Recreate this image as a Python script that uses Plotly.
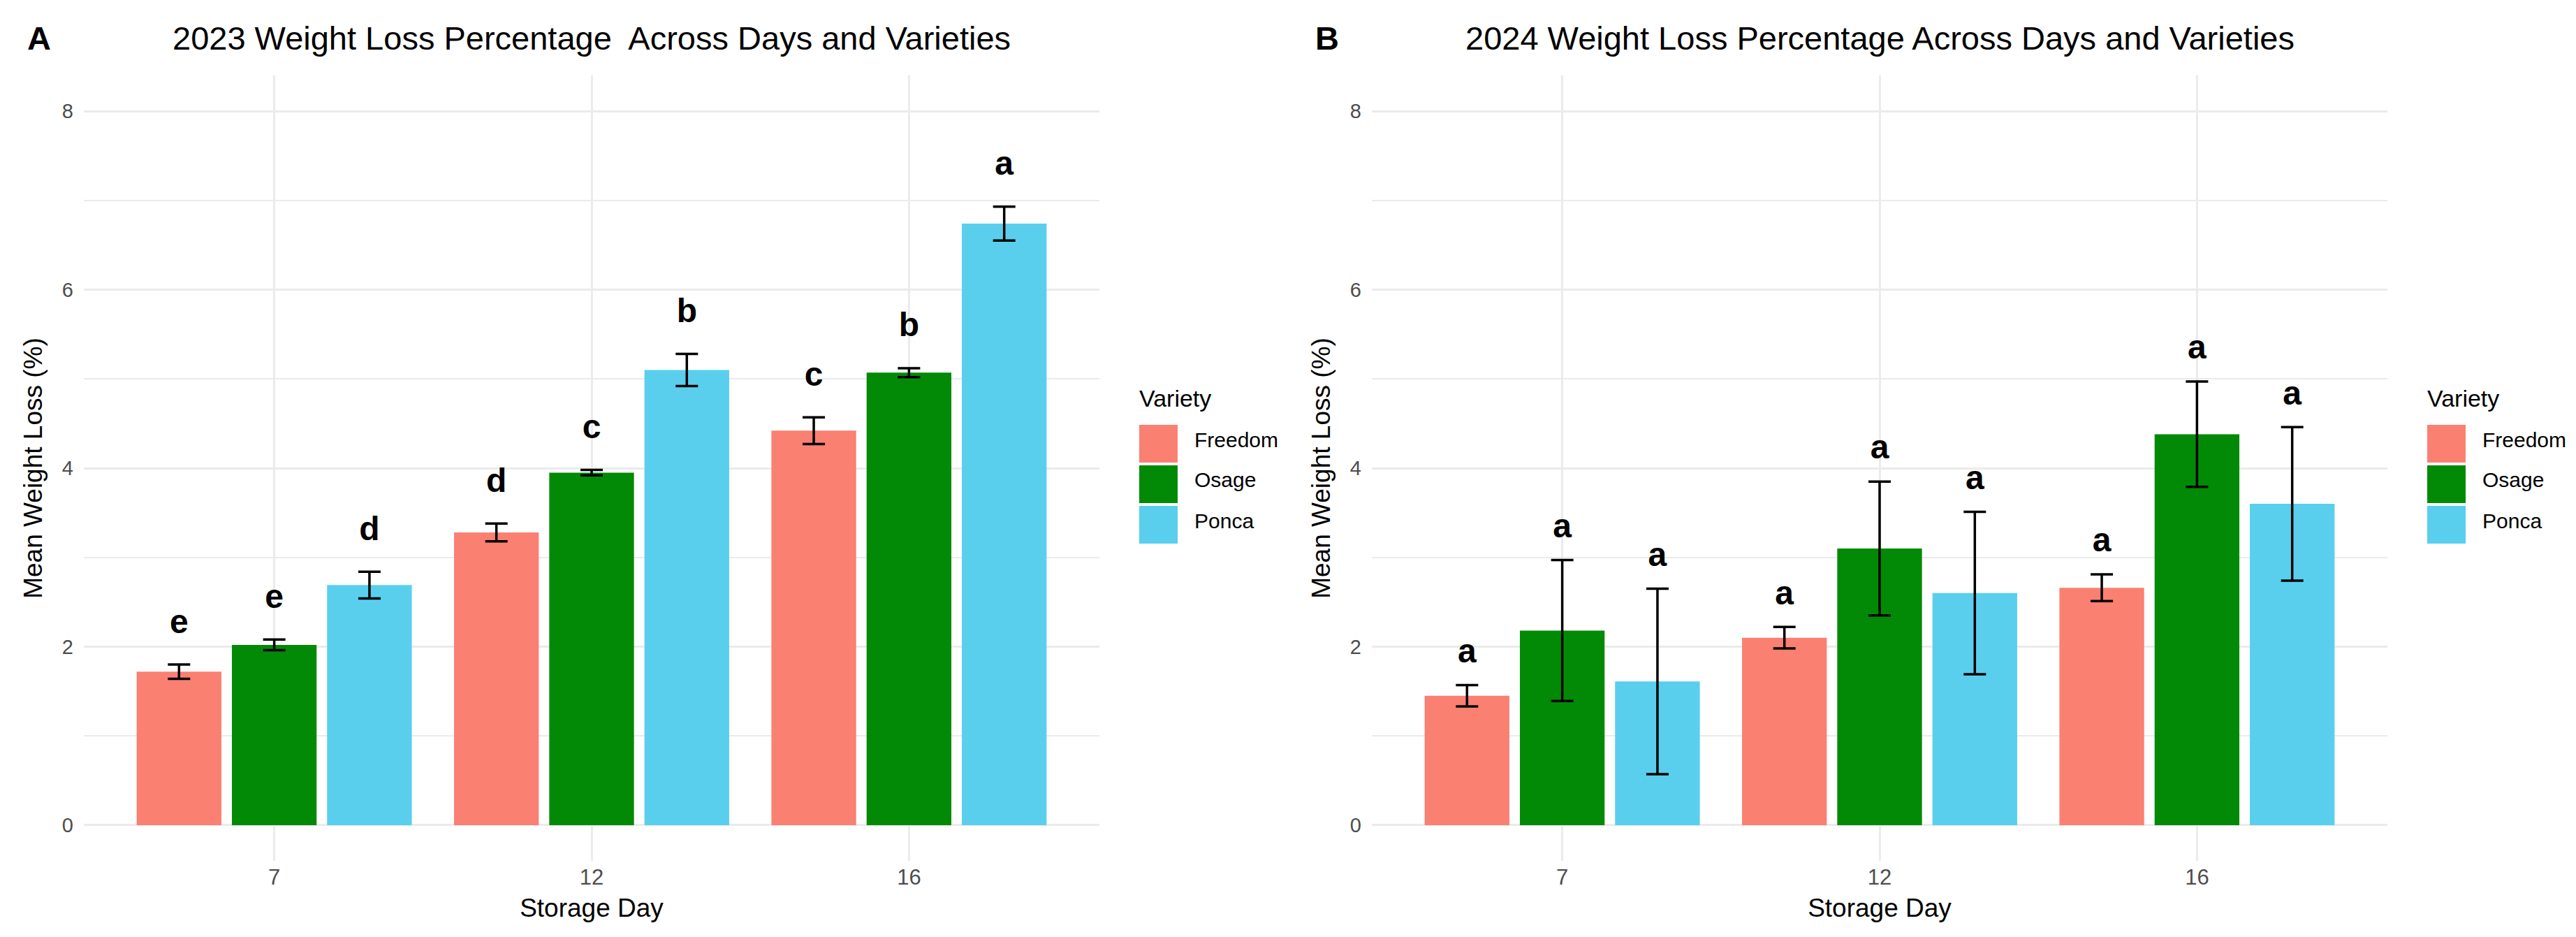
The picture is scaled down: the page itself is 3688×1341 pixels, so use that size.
import plotly.graph_objects as go
from plotly.subplots import make_subplots

# %% DATA
days = ["7", "12", "16"]
varieties = ["Freedom", "Osage", "Ponca"]
colors = ["#FA8072", "#028A06", "#59CFED"]

freedom_2023 = [1.72, 3.28, 4.42]
osage_2023 = [2.02, 3.95, 5.07]
ponca_2023 = [2.69, 5.10, 6.74]
freedom_2023_se = [0.08, 0.10, 0.15]
osage_2023_se = [0.06, 0.03, 0.05]
ponca_2023_se = [0.15, 0.18, 0.19]
freedom_2023_let = ["e", "d", "c"]
osage_2023_let = ["e", "c", "b"]
ponca_2023_let = ["d", "b", "a"]

freedom_2024 = [1.45, 2.10, 2.66]
osage_2024 = [2.18, 3.10, 4.38]
ponca_2024 = [1.61, 2.60, 3.60]
freedom_2024_se = [0.12, 0.12, 0.15]
osage_2024_se = [0.79, 0.75, 0.59]
ponca_2024_se = [1.04, 0.91, 0.86]
freedom_2024_let = ["a", "a", "a"]
osage_2024_let = ["a", "a", "a"]
ponca_2024_let = ["a", "a", "a"]

titles = ["2023 Weight Loss Percentage  Across Days and Varieties",
          "2024 Weight Loss Percentage Across Days and Varieties"]
tags = ["A", "B"]

# %% SETTINGS
W, H = 3688, 1341
FONT = "Liberation Sans, Arial, sans-serif"
GRID = "#EBEBEB"
panel_shift = 1844          # px between the two panels
x0_px, x1_px = 112, 1566    # panel A plot area (px)
top_px, bot_px = 100, 1224
letter_offset = [0.45, 0.35]

def px(x):
    return x / W

def py(y):
    return 1 - y / H

panels = [
    ([freedom_2023, osage_2023, ponca_2023],
     [freedom_2023_se, osage_2023_se, ponca_2023_se],
     [freedom_2023_let, osage_2023_let, ponca_2023_let]),
    ([freedom_2024, osage_2024, ponca_2024],
     [freedom_2024_se, osage_2024_se, ponca_2024_se],
     [freedom_2024_let, osage_2024_let, ponca_2024_let]),
]

fig = make_subplots(rows=1, cols=2)

for p, (vals, ses, lets) in enumerate(panels):
    for i, var in enumerate(varieties):
        fig.add_trace(go.Bar(x=days, y=vals[i], name=var, offsetgroup=var,
                             marker=dict(color=colors[i], line=dict(width=0)),
                             error_y=dict(type="data", array=ses[i], color="black",
                                          thickness=3.5, width=16),
                             showlegend=False), row=1, col=p + 1)
    for i, var in enumerate(varieties):
        ytxt = [v + s + letter_offset[p] for v, s in zip(vals[i], ses[i])]
        fig.add_trace(go.Scatter(x=days, y=ytxt, mode="text", text=lets[i],
                                 offsetgroup=var, textposition="middle center",
                                 textfont=dict(size=48, color="black", family=FONT, weight="bold"),
                                 showlegend=False, hoverinfo="skip"), row=1, col=p + 1)

annotations = []
shapes = []
for p in range(2):
    sh = p * panel_shift
    xa = "xaxis" if p == 0 else "xaxis2"
    ya = "yaxis" if p == 0 else "yaxis2"
    fig.layout[xa].update(domain=[px(x0_px + sh), px(x1_px + sh)], type="category",
                          range=[-0.6, 2.6], showgrid=True, gridcolor=GRID, gridwidth=3.2,
                          zeroline=False, showline=False, ticks="", ticklabelstandoff=2,
                          tickfont=dict(size=31, color="#4D4D4D", family=FONT),
                          title=dict(text="Storage Day", standoff=14,
                                     font=dict(size=37, color="black", family=FONT)))
    fig.layout[ya].update(domain=[py(bot_px), py(top_px)], range=[-0.4, 8.4],
                          tick0=0, dtick=2, showgrid=True, gridcolor=GRID, gridwidth=3.2,
                          minor=dict(dtick=1, tick0=0, showgrid=True, gridcolor=GRID, gridwidth=1.6),
                          zeroline=False, showline=False, ticks="", ticklabelstandoff=14,
                          tickfont=dict(size=29, color="#4D4D4D", family=FONT),
                          title=dict(text="Mean Weight Loss (%)", standoff=16,
                                     font=dict(size=37, color="black", family=FONT)))
    # panel title and tag
    annotations.append(dict(text=titles[p], x=px((x0_px + x1_px) / 2 + sh), y=py(46),
                            xref="paper", yref="paper", xanchor="center", yanchor="middle",
                            showarrow=False, font=dict(size=47, color="black", family=FONT)))
    annotations.append(dict(text="<b>" + tags[p] + "</b>", x=px(29 + sh), y=py(46),
                            xref="paper", yref="paper", xanchor="left", yanchor="middle",
                            showarrow=False, font=dict(size=47, color="black", family=FONT)))
    # legend drawn by hand so the keys get ggplot's size
    annotations.append(dict(text="Variety", x=px(1621 + sh), y=py(562),
                            xref="paper", yref="paper", xanchor="left", yanchor="middle",
                            showarrow=False, font=dict(size=34, color="black", family=FONT)))
    for i, var in enumerate(varieties):
        ktop = 600 + i * 58
        shapes.append(dict(type="rect", xref="paper", yref="paper",
                           x0=px(1623 + sh), x1=px(1678 + sh), y0=py(ktop + 54), y1=py(ktop),
                           fillcolor=colors[i], line=dict(width=0)))
        annotations.append(dict(text=var, x=px(1700 + sh), y=py(ktop + 21),
                                xref="paper", yref="paper", xanchor="left", yanchor="middle",
                                showarrow=False, font=dict(size=30, color="black", family=FONT)))

fig.update_layout(width=W, height=H, margin=dict(l=0, r=0, t=0, b=0),
                  paper_bgcolor="white", plot_bgcolor="white",
                  barmode="group", bargap=0.1, bargroupgap=0.11,
                  scattermode="group", scattergap=0.1,
                  font=dict(family=FONT), showlegend=False,
                  annotations=annotations, shapes=shapes)

fig.write_html("out.html")
